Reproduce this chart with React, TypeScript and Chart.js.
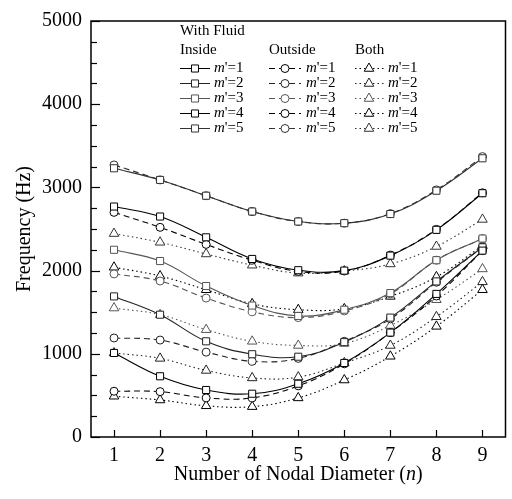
import React, { useEffect, useRef } from "react";
import { Chart, registerables } from "chart.js";

Chart.register(...registerables);

// ---- data ----
const nodalDiameters = [1, 2, 3, 4, 5, 6, 7, 8, 9];
const modeNumbers = ["1", "2", "3", "4", "5"];
const yTickValues = [0, 1000, 2000, 3000, 4000, 5000];

const inside1 = [1010, 730, 565, 520, 640, 890, 1255, 1720, 2240];
const inside2 = [1690, 1470, 1150, 995, 965, 1140, 1435, 1870, 2280];
const inside3 = [2250, 2115, 1815, 1580, 1455, 1530, 1730, 2125, 2385];
const inside4 = [2770, 2650, 2400, 2140, 2005, 2000, 2180, 2490, 2930];
const inside5 = [3230, 3090, 2900, 2710, 2590, 2570, 2680, 2960, 3350];

const outside1 = [550, 545, 470, 470, 615, 880, 1255, 1695, 2240];
const outside2 = [1190, 1165, 1020, 910, 945, 1150, 1420, 1860, 2280];
const outside3 = [1960, 1875, 1670, 1505, 1435, 1515, 1720, 2125, 2385];
const outside4 = [2700, 2520, 2315, 2125, 1990, 1995, 2185, 2495, 2935];
const outside5 = [3270, 3090, 2900, 2710, 2590, 2570, 2685, 2970, 3370];

const both1 = [490, 445, 375, 365, 470, 685, 970, 1330, 1770];
const both2 = [1010, 945, 800, 710, 720, 890, 1100, 1445, 1865];
const both3 = [1550, 1470, 1290, 1150, 1100, 1125, 1340, 1650, 2020];
const both4 = [2040, 1935, 1770, 1600, 1530, 1540, 1690, 1925, 2300];
const both5 = [2445, 2340, 2200, 2065, 1970, 1995, 2080, 2290, 2615];

const insideSeries = [inside1, inside2, inside3, inside4, inside5];
const outsideSeries = [outside1, outside2, outside3, outside4, outside5];
const bothSeries = [both1, both2, both3, both4, both5];

const modeColors = ["#000", "#222", "#555", "#000", "#333"];

const FONT = "'Liberation Serif', 'Times New Roman', serif";

type Group = { name: string; dash: number[]; style: string; radius: number; series: number[][] };
const groups: Group[] = [
  { name: "Inside", dash: [], style: "rect", radius: 5, series: insideSeries },
  { name: "Outside", dash: [6, 4], style: "circle", radius: 4, series: outsideSeries },
  { name: "Both", dash: [1.5, 3], style: "triangle", radius: 5.5, series: bothSeries },
];

function drawMarker(ctx: CanvasRenderingContext2D, style: string, x: number, y: number, r: number, color: string) {
  ctx.save();
  ctx.setLineDash([]);
  ctx.lineWidth = 1;
  ctx.strokeStyle = color;
  ctx.fillStyle = "#fff";
  ctx.beginPath();
  if (style === "rect") {
    const s = Math.SQRT1_2 * r;
    ctx.rect(x - s, y - s, 2 * s, 2 * s);
  } else if (style === "circle") {
    ctx.arc(x, y, r, 0, Math.PI * 2);
  } else {
    for (let i = 0; i < 3; i++) {
      const a = (i * 2 * Math.PI) / 3;
      const px = x + Math.sin(a) * r;
      const py = y - Math.cos(a) * r;
      if (i === 0) ctx.moveTo(px, py);
      else ctx.lineTo(px, py);
    }
    ctx.closePath();
  }
  ctx.fill();
  ctx.stroke();
  ctx.restore();
}

const framePlugin = {
  id: "frame",
  afterDraw(chart: any) {
    const { ctx, chartArea } = chart;
    const { left, right, top, bottom } = chartArea;
    const xs = chart.scales.x;
    const ys = chart.scales.y;
    ctx.save();
    ctx.strokeStyle = "#000";
    ctx.lineWidth = 1.5;
    ctx.setLineDash([]);
    ctx.strokeRect(left, top, right - left, bottom - top);
    ctx.lineWidth = 1.2;
    // y ticks (inward)
    for (let v = 0; v <= 5000; v += 250) {
      const py = Math.round(ys.getPixelForValue(v)) + 0.5;
      const len = v % 1000 === 0 ? 9 : 6;
      ctx.beginPath();
      ctx.moveTo(left, py);
      ctx.lineTo(left + len, py);
      ctx.stroke();
    }
    // x ticks (inward)
    nodalDiameters.forEach((n) => {
      const px = Math.round(xs.getPixelForValue(n)) + 0.5;
      ctx.beginPath();
      ctx.moveTo(px, bottom);
      ctx.lineTo(px, bottom - 7);
      ctx.stroke();
    });

    // axis titles
    ctx.fillStyle = "#000";
    ctx.textBaseline = "middle";
    const p1 = "Number of Nodal Diameter (";
    const p3 = ")";
    ctx.font = `20px ${FONT}`;
    const w1 = ctx.measureText(p1).width;
    const w3 = ctx.measureText(p3).width;
    ctx.font = `italic 20px ${FONT}`;
    const w2 = ctx.measureText("n").width;
    const total = w1 + w2 + w3;
    const tx = (left + right) / 2 - total / 2;
    const ty = 475;
    ctx.textAlign = "left";
    ctx.font = `20px ${FONT}`;
    ctx.fillText(p1, tx, ty);
    ctx.font = `italic 20px ${FONT}`;
    ctx.fillText("n", tx + w1, ty);
    ctx.font = `20px ${FONT}`;
    ctx.fillText(p3, tx + w1 + w2, ty);

    ctx.save();
    ctx.translate(25, (top + bottom) / 2);
    ctx.rotate(-Math.PI / 2);
    ctx.textAlign = "center";
    ctx.fillText("Frequency (Hz)", 0, 0);
    ctx.restore();

    // legend
    ctx.font = `15px ${FONT}`;
    ctx.textAlign = "left";
    ctx.fillText("With Fluid", 180, 31);
    const colX = [
      { x1: 180, x2: 210, mx: 195, tx: 214, hx: 180 },
      { x1: 269, x2: 301, mx: 285, tx: 306, hx: 269 },
      { x1: 355, x2: 384, mx: 369, tx: 388, hx: 355 },
    ];
    groups.forEach((g, gi) => {
      const c = colX[gi];
      ctx.font = `15px ${FONT}`;
      ctx.fillStyle = "#000";
      ctx.fillText(g.name, c.hx, 50);
      modeNumbers.forEach((m, mi) => {
        const y = 68 + mi * 15;
        const color = modeColors[mi];
        ctx.save();
        ctx.strokeStyle = color;
        ctx.lineWidth = 1;
        ctx.setLineDash(g.dash);
        ctx.beginPath();
        ctx.moveTo(c.x1, y + 0.5);
        ctx.lineTo(c.x2, y + 0.5);
        ctx.stroke();
        ctx.restore();
        drawMarker(ctx, g.style, c.mx, y + 0.5, g.radius, color);
        ctx.fillStyle = "#000";
        ctx.font = `italic 15px ${FONT}`;
        ctx.fillText("m", c.tx, y);
        const wm = ctx.measureText("m").width;
        ctx.font = `15px ${FONT}`;
        ctx.fillText("'=" + m, c.tx + wm, y);
      });
    });
    ctx.restore();
  },
};

export default function App() {
  const canvasRef = useRef<HTMLCanvasElement | null>(null);

  useEffect(() => {
    document.body.style.margin = "0";
    const canvas = canvasRef.current;
    if (!canvas) return;

    const datasets: any[] = [];
    groups.forEach((g) => {
      g.series.forEach((vals, mi) => {
        datasets.push({
          label: `${g.name} m'=${modeNumbers[mi]}`,
          data: nodalDiameters.map((n, i) => ({ x: n, y: vals[i] })),
          borderColor: modeColors[mi],
          borderWidth: 1.1,
          borderDash: g.dash,
          tension: 0.4,
          pointStyle: g.style,
          pointRadius: g.radius,
          pointBorderWidth: 1,
          pointBorderColor: modeColors[mi],
          pointBackgroundColor: "#fff",
          fill: false,
        });
      });
    });

    const chart = new Chart(canvas, {
      type: "line",
      data: { datasets },
      options: {
        animation: false,
        responsive: false,
        events: [],
        layout: { padding: { top: 16, right: 2, left: 0, bottom: 0 } },
        plugins: { legend: { display: false }, tooltip: { enabled: false } },
        scales: {
          x: {
            type: "linear",
            min: 0.5,
            max: 9.5,
            grid: { display: false, drawTicks: false },
            border: { display: false },
            afterBuildTicks: (scale: any) => {
              scale.ticks = nodalDiameters.map((v) => ({ value: v }));
            },
            afterFit: (scale: any) => {
              scale.height = 62;
            },
            ticks: {
              padding: 7,
              maxRotation: 0,
              autoSkip: false,
              color: "#000",
              font: { family: FONT, size: 20 },
              callback: (v: any) => String(v),
            },
          },
          y: {
            type: "linear",
            min: 0,
            max: 5000,
            grid: { display: false, drawTicks: false },
            border: { display: false },
            afterBuildTicks: (scale: any) => {
              scale.ticks = yTickValues.map((v) => ({ value: v }));
            },
            afterFit: (scale: any) => {
              scale.width = 91;
            },
            ticks: {
              padding: 9,
              autoSkip: false,
              color: "#000",
              font: { family: FONT, size: 20 },
              callback: (v: any) => String(v),
            },
          },
        },
      },
      plugins: [framePlugin],
    });

    return () => chart.destroy();
  }, []);

  return (
    <div style={{ position: "absolute", left: 0, top: 0, width: 512, height: 499, background: "#fff" }}>
      <canvas ref={canvasRef} width={512} height={499} style={{ display: "block" }} />
    </div>
  );
}
